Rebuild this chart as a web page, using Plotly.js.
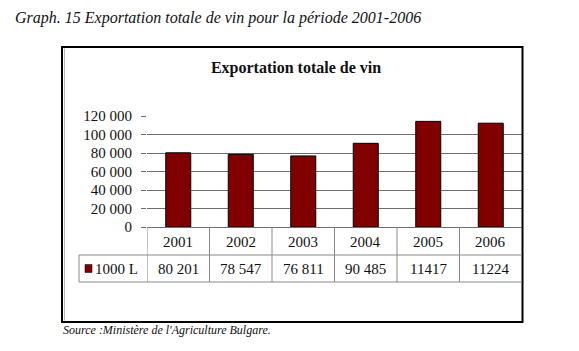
<!DOCTYPE html>
<html>
<head>
<meta charset="utf-8">
<script src="https://cdn.plot.ly/plotly-3.0.1.min.js"></script>
<style>html,body{margin:0;padding:0;background:#fff;}#chart{width:579px;height:351px;}</style>
</head>
<body>
<div id="chart"></div>
<script>
// ---- data ----
const years = ["2001", "2002", "2003", "2004", "2005", "2006"];
const exports1000L = [80201, 78547, 76811, 90485, 114170, 112240];
const tableLabels = ["80 201", "78 547", "76 811", "90 485", "11417", "11224"];
const seriesName = "1000 L";
const yTicks = [0, 20000, 40000, 60000, 80000, 100000, 120000];
const chartTitle = "Exportation totale de vin";
const caption = "Graph. 15 Exportation totale de vin pour la période 2001-2006";
const source = "Source :Ministère de l'Agriculture Bulgare.";

// ---- layout helpers (pixel -> paper) ----
const FW = 579, FH = 351;
const PL = 147, PR = 522, PT = 116, PB = 227;
const xp = px => (px - PL) / (PR - PL);
const yp = py => (PB - py) / (PB - PT);
const serif = "'Liberation Serif', 'DejaVu Serif', serif";
const grid = "#6e6e6e";
const tgrid = "#8a8a8a";

const shapes = [];
const annotations = [];

// outer frame
shapes.push({type:"rect", xref:"paper", yref:"paper", x0:xp(62), x1:xp(522.5), y0:yp(322), y1:yp(47),
  line:{color:"#000", width:2}, fillcolor:"rgba(0,0,0,0)", layer:"above"});
shapes.push({type:"line", xref:"paper", yref:"paper", x0:xp(64.5), x1:xp(64.5), y0:yp(320.5), y1:yp(48.5),
  line:{color:"#b8b8b8", width:1}});

// data table lines
const rowTop = 227, rowMid = 255, rowBot = 282;
for (let i = 0; i <= years.length; i++) {
  shapes.push({type:"line", xref:"x", yref:"paper", x0:i - 0.5, x1:i - 0.5, y0:yp(rowTop), y1:yp(rowBot),
    line:{color:tgrid, width:1}});
}
shapes.push({type:"line", xref:"paper", yref:"paper", x0:xp(79), x1:xp(79), y0:yp(rowMid), y1:yp(rowBot), line:{color:tgrid, width:1}});
shapes.push({type:"line", xref:"paper", yref:"paper", x0:xp(79), x1:1, y0:yp(rowMid), y1:yp(rowMid), line:{color:tgrid, width:1}});
shapes.push({type:"line", xref:"paper", yref:"paper", x0:xp(79), x1:1, y0:yp(rowBot), y1:yp(rowBot), line:{color:tgrid, width:1}});
// legend key
shapes.push({type:"rect", xref:"paper", yref:"paper", x0:xp(85), x1:xp(92), y0:yp(272.5), y1:yp(264.5),
  fillcolor:"#800000", line:{color:"#000", width:0.5}});

years.forEach((y, i) => {
  annotations.push({xref:"x", yref:"paper", x:i, y:yp(241.5), text:y, showarrow:false,
    xanchor:"center", yanchor:"middle", font:{family:serif, size:15, color:"#111"}});
  annotations.push({xref:"x", yref:"paper", x:i, y:yp(268.5), text:tableLabels[i], showarrow:false,
    xanchor:"center", yanchor:"middle", font:{family:serif, size:15, color:"#111"}});
});
annotations.push({xref:"paper", yref:"paper", x:xp(92.5), y:yp(268.5), text:seriesName, showarrow:false,
  xanchor:"left", yanchor:"middle", font:{family:serif, size:15, color:"#111"}});

// caption and source
annotations.push({xref:"paper", yref:"paper", x:xp(13), y:yp(18), text:"<i>" + caption + "</i>", showarrow:false,
  xanchor:"left", yanchor:"middle", font:{family:serif, size:16, color:"#111"}});
annotations.push({xref:"paper", yref:"paper", x:xp(61), y:yp(330), text:"<i>" + source + "</i>", showarrow:false,
  xanchor:"left", yanchor:"middle", font:{family:serif, size:12, color:"#111"}});

const trace = {
  type:"bar", x:years, y:exports1000L, name:seriesName,
  marker:{color:"#800000", line:{color:"#000", width:1}},
  hoverinfo:"x+y"
};

const layout = {
  width:FW, height:FH,
  margin:{l:PL, r:FW - PR, t:PT, b:FH - PB, pad:0},
  paper_bgcolor:"#fff", plot_bgcolor:"#fff",
  showlegend:false,
  bargap:0.6,
  separators:", ",
  font:{family:serif},
  title:{text:"<b>" + chartTitle + "</b>", xref:"container", yref:"container",
    x:296/FW, y:1 - 67/FH, xanchor:"center", yanchor:"middle",
    font:{family:serif, size:16, color:"#111"}},
  xaxis:{type:"category", showticklabels:false, showgrid:false, zeroline:false, showline:false,
    ticks:"", range:[-0.5, years.length - 0.5], fixedrange:true},
  yaxis:{range:[0, 120000], tickvals:yTicks, tickformat:",d", showgrid:true, gridcolor:grid, gridwidth:1,
    zeroline:true, zerolinecolor:grid, zerolinewidth:1, showline:false,
    ticks:"outside", ticklen:5, tickcolor:grid, tickwidth:1, ticklabelstandoff:6,
    tickfont:{family:serif, size:15, color:"#111"}, fixedrange:true},
  shapes:shapes,
  annotations:annotations
};

Plotly.newPlot("chart", [trace], layout, {displayModeBar:false, staticPlot:true});
</script>
</body>
</html>
